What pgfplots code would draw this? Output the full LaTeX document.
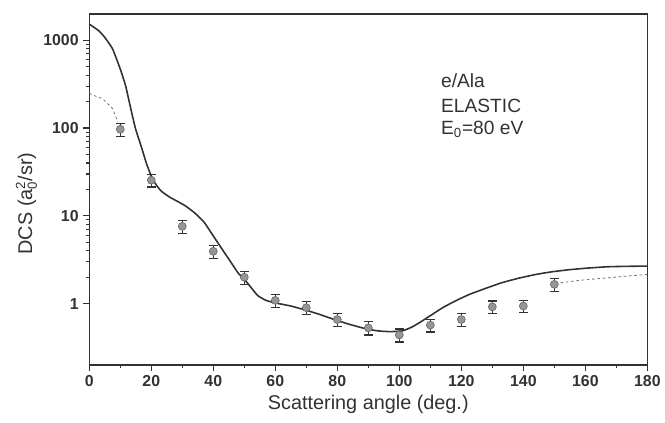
\documentclass[border=0pt]{standalone}
\usepackage{fontspec}
\setmainfont{Liberation Sans}
\usepackage{pgfplots}
\pgfplotsset{compat=1.18}
\definecolor{ink}{RGB}{50,50,50}
\definecolor{mk}{RGB}{150,150,150}
\newcommand{\sx}[1]{\hbox{\fontsize{10}{10}\selectfont #1}}

\pgfplotstableread{
x y ey
10 97 16
20 25.5 4.2
30 7.6 1.25
40 3.95 0.65
50 2.0 0.33
60 1.09 0.18
70 0.90 0.15
80 0.66 0.11
90 0.53 0.09
100 0.44 0.075
110 0.57 0.095
120 0.66 0.11
130 0.92 0.15
140 0.94 0.15
150 1.66 0.27
}\expdata

\pgfplotstableread{
x y
0 1530
3 1290
5 1080
7.5 800
10 470
11.7 305
13.5 160
14.9 99
17 58
18.5 39
20.3 26.7
22 21.5
23.4 18.9
26 16.3
28.5 14.6
31 13.0
34 10.8
37 8.5
40 5.9
43 4.1
46 2.85
48 2.24
51 1.72
54.3 1.24
57 1.09
60 1.02
65 0.94
69 0.86
74 0.76
79 0.66
84 0.58
89 0.52
93 0.49
97 0.48
101 0.49
104 0.54
106.6 0.61
110 0.73
114 0.90
118 1.07
122.5 1.27
128 1.50
133 1.73
138.5 1.95
144 2.15
149 2.30
154.5 2.43
160 2.53
167 2.63
173 2.66
180 2.68
}\theory

\pgfplotstableread{
x y
0 250
1.1 238
4.3 216
7.5 167
9.2 118
}\dashA

\pgfplotstableread{
x y
152 1.73
158 1.84
165 1.94
172 2.04
180 2.15
}\dashB

\begin{document}
\begin{tikzpicture}
\begin{axis}[
  scale only axis, width=422pt, height=265.5pt,
  ymode=log, xmin=0, xmax=180, ymin=0.2, ymax=2000,
  xtick={0,20,...,180}, minor x tick num=1,
  ytick={1,10,100,1000}, yticklabels={1,10,100,1000},
  tick align=outside, tick pos=left,
  major tick length=4.5pt, minor tick length=2.5pt,
  every tick/.style={ink, line width=0.9pt},
  axis line style={ink, line width=1.1pt},
  tick label style={font=\fontsize{12}{14}\selectfont\bfseries, text=ink},
  /pgf/number format/assume math mode=true,
  xlabel={Scattering angle (deg.)},
  ylabel={DCS (a$_{\sx{0}}^{\sx{2}}$/sr)},
  label style={font=\fontsize{15}{17}\selectfont, text=ink},
  xlabel style={yshift=1pt},
  ylabel style={yshift=-2pt, at={(ticklabel cs:0.46)}},
  clip=false]
\addplot[ink, line width=1.2pt, smooth, tension=0.3] table {\theory};
\addplot[ink!70, line width=0.6pt, dash pattern=on 2pt off 2pt] table {\dashA};
\addplot[ink!70, line width=0.6pt, dash pattern=on 2pt off 2pt] table {\dashB};
\addplot[only marks, mark=*, mark size=3pt,
  mark options={fill=mk, draw=mk!70!black, line width=0.5pt},
  error bars/.cd, y dir=both, y explicit,
  error bar style={ink, line width=0.9pt},
  error mark options={rotate=90, mark size=3.4pt, ink, line width=0.9pt}]
  table[x=x, y=y, y error=ey] {\expdata};
\node[anchor=west, font=\fontsize{14.5}{16}\selectfont, text=ink] at (axis cs:112,348) {e/Ala};
\node[anchor=west, font=\fontsize{14.5}{16}\selectfont, text=ink] at (axis cs:112,181) {ELASTIC};
\node[anchor=west, font=\fontsize{14.5}{16}\selectfont, text=ink] at (axis cs:112,96) {E$_{\sx{0}}$=80 eV};
\end{axis}
\path (current axis.south west) ++(-67.5pt,-43.5pt);
\path (current axis.north east) ++(9pt,10.5pt);
\end{tikzpicture}
\end{document}
